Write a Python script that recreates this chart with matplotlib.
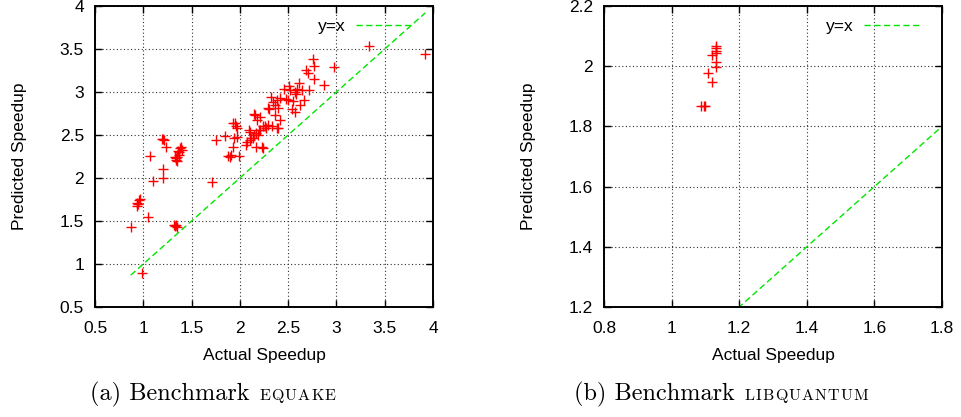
import numpy as np
import matplotlib
matplotlib.use("Agg")
import matplotlib.pyplot as plt

# ---------------- data ----------------
equake_actual = [0.87, 0.99, 0.93, 0.94, 0.95, 0.96, 0.97, 1.05, 1.10, 1.07,
                 1.19, 1.20, 1.21, 1.235, 1.20, 1.20,
                 1.38, 1.36, 1.35, 1.34, 1.37, 1.40, 1.33, 1.35, 1.37, 1.39, 1.34,
                 1.32, 1.34, 1.35, 1.33,
                 1.71, 1.75, 1.85, 1.88, 1.90, 1.91, 1.93, 1.95, 1.97, 1.94, 1.97, 1.93, 1.99, 1.96,
                 2.07, 2.06, 2.10, 2.09, 2.12, 2.11, 2.14, 2.15, 2.17, 2.16, 2.15, 2.17, 2.21, 2.18,
                 2.21, 2.20, 2.23, 2.24, 2.24, 2.19, 2.27, 2.29, 2.26, 2.30, 2.29, 2.32, 2.34, 2.36,
                 2.38, 2.36, 2.40, 2.39, 2.42, 2.42, 2.46, 2.48, 2.51, 2.50, 2.54, 2.55, 2.57, 2.57,
                 2.58, 2.59, 2.61, 2.62, 2.64, 2.66, 2.68, 2.71, 2.72, 2.76, 2.77, 2.77, 2.87, 2.98,
                 3.34, 3.92, 2.33, 2.38, 2.52]
equake_predicted = [1.43, 0.89, 1.67, 1.71, 1.70, 1.74, 1.76, 1.55, 1.97, 2.26,
                    2.45, 2.45, 2.44, 2.36, 2.11, 2.00,
                    2.35, 2.31, 2.25, 2.21, 2.27, 2.33, 2.24, 2.20, 2.30, 2.36, 2.23,
                    1.45, 1.45, 1.43, 1.44,
                    1.95, 2.44, 2.49, 2.26, 2.25, 2.27, 2.64, 2.64, 2.58, 2.46, 2.48, 2.36, 2.26, 2.61,
                    2.42, 2.38, 2.54, 2.56, 2.46, 2.44, 2.46, 2.50, 2.52, 2.73, 2.75, 2.36, 2.56, 2.68,
                    2.71, 2.56, 2.36, 2.35, 2.60, 2.50, 2.58, 2.62, 2.60, 2.80, 2.81, 2.94, 2.88, 2.85,
                    2.91, 2.73, 2.81, 2.58, 2.67, 2.93, 3.04, 2.92, 3.07, 2.91, 2.80, 2.89, 2.77, 3.00,
                    2.98, 3.04, 3.10, 2.85, 3.02, 2.91, 3.26, 3.22, 3.02, 3.38, 3.30, 3.15, 3.08, 3.29,
                    3.53, 3.44, 2.60, 2.58, 3.02]

libq_actual = [1.087, 1.095, 1.099, 1.109, 1.121, 1.131, 1.131, 1.121, 1.131, 1.131, 1.131, 1.131]
libq_predicted = [1.868, 1.868, 1.868, 1.978, 1.949, 1.998, 2.015, 2.037, 2.045, 2.051, 2.059, 2.067]

equake_xticks = [0.5, 1, 1.5, 2, 2.5, 3, 3.5, 4]
equake_yticks = [0.5, 1, 1.5, 2, 2.5, 3, 3.5, 4]
libq_xticks = [0.8, 1.0, 1.2, 1.4, 1.6, 1.8]
libq_yticks = [1.2, 1.4, 1.6, 1.8, 2.0, 2.2]

x_label = "Actual Speedup"
y_label = "Predicted Speedup"
legend_label = "y=x"
captions = [("(a) Benchmark ", "EQUAKE"), ("(b) Benchmark ", "LIBQUANTUM")]

# ---------------- styling ----------------
SANS = ["Liberation Sans", "DejaVu Sans"]
RED = "#ff0000"
GREEN = "#00e600"
FS = 12.5

fig = plt.figure(figsize=(9.61, 4.17), dpi=100)
W, H = 961, 417


def make_axes(left_px, top_px, w_px, h_px):
    return fig.add_axes([left_px / W, 1 - (top_px + h_px) / H, w_px / W, h_px / H])


def fmt(v):
    return "%g" % v


def style_axes(ax, xt, yt):
    ax.set_xlim(xt[0], xt[-1])
    ax.set_ylim(yt[0], yt[-1])
    ax.set_xticks(xt)
    ax.set_yticks(yt)
    ax.set_xticklabels([fmt(v) for v in xt], family=SANS, fontsize=FS)
    ax.set_yticklabels([fmt(v) for v in yt], family=SANS, fontsize=FS)
    ax.tick_params(direction="in", top=True, right=True, length=5, width=1.0,
                   colors="black")
    ax.tick_params(axis="x", pad=10)
    ax.tick_params(axis="y", pad=8)
    for s in ax.spines.values():
        s.set_linewidth(1.4)
    ax.grid(True, color="#303030", linestyle=(0, (1, 2.2)), linewidth=0.8)
    ax.set_xlabel(x_label, family=SANS, fontsize=FS)
    ax.set_ylabel(y_label, family=SANS, fontsize=FS)
    ax.xaxis.set_label_coords(0.5, -0.135)
    ax.yaxis.set_label_coords(-0.20, 0.5)


ax1 = make_axes(95, 6, 338, 301)
ax2 = make_axes(604, 6, 338, 301)

# Left panel
style_axes(ax1, equake_xticks, equake_yticks)
ax1.plot(equake_actual, equake_predicted, linestyle="none", marker="+",
         color=RED, markersize=7.5, markeredgewidth=1.0, zorder=3)
xs = np.linspace(min(equake_actual), max(equake_actual), 50)
ln1, = ax1.plot(xs, xs, color=GREEN, linestyle=(0, (4.5, 2.5)), linewidth=1.0,
                label=legend_label, zorder=2)

# Right panel
style_axes(ax2, libq_xticks, libq_yticks)
ax2.plot(libq_actual, libq_predicted, linestyle="none", marker="+",
         color=RED, markersize=7.5, markeredgewidth=1.0, zorder=3)
xs2 = np.linspace(libq_xticks[0], libq_xticks[-1], 50)
ln2, = ax2.plot(xs2, xs2, color=GREEN, linestyle=(0, (4.5, 2.5)), linewidth=1.0,
                label=legend_label, zorder=2)

for ax, ln, bx in [(ax1, ln1, 0.938), (ax2, ln2, 0.935)]:
    ax.legend(handles=[ln], loc="upper right", bbox_to_anchor=(bx, 0.957),
              frameon=False, markerfirst=False, handlelength=3.2,
              borderpad=0, borderaxespad=0, handletextpad=0.6,
              prop={"family": SANS, "size": FS})

# Captions (serif, with small caps emulated)
renderer = fig.canvas.get_renderer()
cap_x = [90 / W, 574 / W]
cap_y = 1 - 400 / H
for (main, sc), x0 in zip(captions, cap_x):
    t = fig.text(x0, cap_y, main, family="cmr10", fontsize=17.5, va="baseline", ha="left")
    prev = t
    first = True
    for ch in sc:
        a = fig.text(0, 0, ch, family="cmr10", fontsize=11.5, va="baseline", ha="left")
        fig.canvas.draw()
        bb = prev.get_window_extent(renderer)
        xpos = bb.x1 / W + (1.5 / W if first else 1.2 / W)
        a.set_position((xpos, cap_y))
        prev = a
        first = False

fig.savefig("out.png", dpi=100)
